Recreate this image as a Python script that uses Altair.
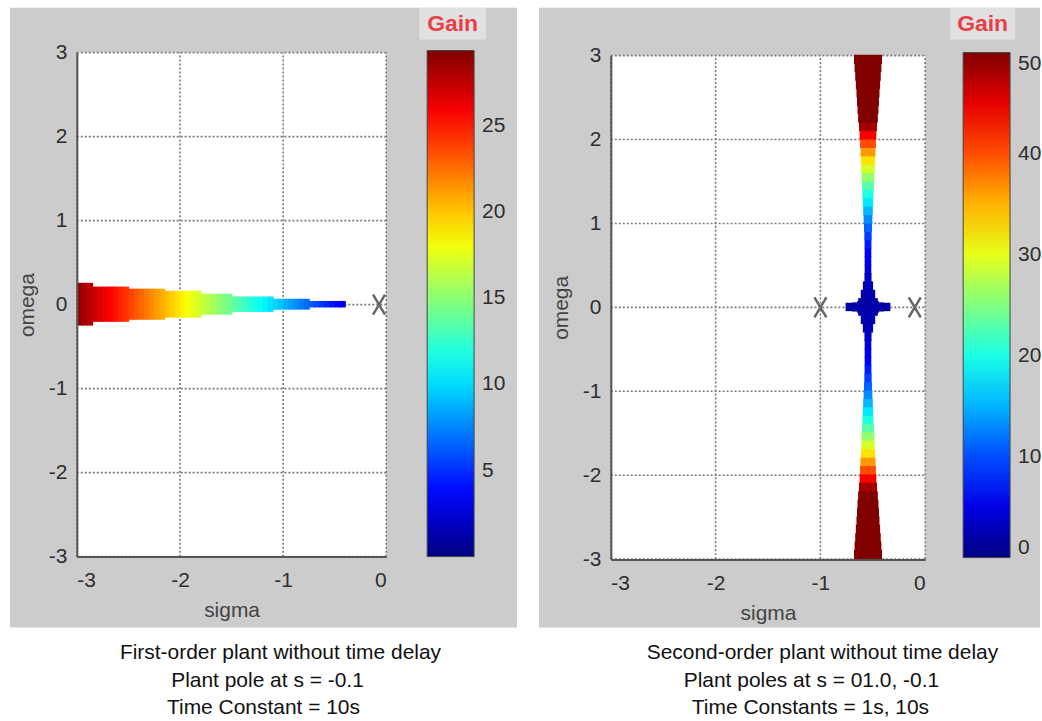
import altair as alt
import pandas as pd

FONT = "Liberation Sans"

x_ticks = [-3, -2, -1, 0]
y_ticks = [-3, -2, -1, 0, 1, 2, 3]

jet_colors = ["#000080", "#0000ff", "#0080ff", "#00ffff", "#80ff80",
              "#ffff00", "#ff8000", "#ff0000", "#800000"]
gain1_breaks = [0, 3.675, 7.35, 11.025, 14.7, 18.375, 22.05, 25.725, 29.4]
gain2_breaks = [0, 6.25, 12.5, 18.75, 25, 31.25, 37.5, 43.75, 50]
cbar1_ticks = [5, 10, 15, 20, 25]
cbar2_ticks = [0, 10, 20, 30, 40, 50]

# ---- panel 1: first-order plant, locus along the real axis ----
l1_edges = [-3.00, -2.95, -2.90, -2.85, -2.80, -2.75, -2.70, -2.65, -2.60, -2.55,
            -2.50, -2.45, -2.40, -2.35, -2.30, -2.25, -2.20, -2.15, -2.10, -2.05,
            -2.00, -1.95, -1.90, -1.85, -1.80, -1.75, -1.70, -1.65, -1.60, -1.55,
            -1.50, -1.45, -1.40, -1.35, -1.30, -1.25, -1.20, -1.15, -1.10, -1.05,
            -1.00, -0.95, -0.90, -0.85, -0.80, -0.75, -0.70, -0.65, -0.60, -0.55,
            -0.50, -0.45, -0.40]
l1_gain = [28.75, 28.25, 27.75, 27.25, 26.75, 26.25, 25.75, 25.25, 24.75, 24.25,
           23.75, 23.25, 22.75, 22.25, 21.75, 21.25, 20.75, 20.25, 19.75, 19.25,
           18.75, 18.25, 17.75, 17.25, 16.75, 16.25, 15.75, 15.25, 14.75, 14.25,
           13.75, 13.25, 12.75, 12.25, 11.75, 11.25, 10.75, 10.25, 9.75, 9.25,
           8.75, 8.25, 7.75, 7.25, 6.75, 6.25, 5.75, 5.25, 4.75, 4.25,
           3.75, 3.25]
l1_step_edges = [-3.00, -2.85, -2.50, -2.15, -1.80, -1.50, -1.10, -0.75, -0.40]
l1_step_half = [0.25, 0.205, 0.18, 0.155, 0.12, 0.087, 0.06, 0.034]
poles1 = [-0.07]

# ---- panel 2: second-order plant, vertical branch at sigma = -0.55 ----
l2_center = -0.55
l2_w_edges = [0.0, 0.1, 0.2, 0.3, 0.4, 0.5, 0.6, 0.7, 0.8, 0.9, 1.0,
              1.1, 1.2, 1.3, 1.4, 1.5, 1.6, 1.7, 1.8, 1.9, 2.0,
              2.1, 2.2, 2.3, 2.4, 2.5, 2.6, 2.7, 2.8, 2.9, 3.0]
l2_gain = [2.05, 2.25, 2.65, 3.25, 4.05, 5.05, 6.25, 7.65, 9.25, 11.05,
           13.05, 15.25, 17.65, 20.25, 23.05, 26.05, 29.25, 32.65, 36.25, 40.05,
           44.05, 48.25, 52.65, 57.25, 62.05, 67.05, 72.25, 77.65, 83.25, 89.05]
l2_half = [0.09, 0.065, 0.045, 0.03, 0.028, 0.028, 0.028, 0.029, 0.031, 0.034,
           0.038, 0.042, 0.045, 0.049, 0.053, 0.057, 0.061, 0.064, 0.068, 0.072,
           0.076, 0.082, 0.09, 0.096, 0.101, 0.106, 0.112, 0.118, 0.124, 0.13]
star_edges = [-0.76, -0.70, -0.65, -0.61, -0.58, -0.52, -0.49, -0.45, -0.40, -0.34]
star_half = [0.045, 0.05, 0.065, 0.085, 0.11, 0.085, 0.065, 0.05, 0.045]
star_gain = [1.70, 1.87, 1.96, 2.00, 2.025, 2.00, 1.96, 1.87, 1.70]
poles2 = [-1.0, -0.1]

captions1 = ["First-order plant without time delay",
             "Plant pole at s = -0.1",
             "Time Constant = 10s"]
captions2 = ["Second-order plant without time delay",
             "Plant poles at s = 01.0, -0.1",
             "Time Constants = 1s, 10s"]


def half_at(s):
    for a, b, h in zip(l1_step_edges[:-1], l1_step_edges[1:], l1_step_half):
        if a <= s < b:
            return h
    return l1_step_half[-1]


rows1 = []
for a, b, g in zip(l1_edges[:-1], l1_edges[1:], l1_gain):
    h = half_at((a + b) / 2)
    rows1.append(dict(s0=a, s1=b, w0=-h, w1=h, gain=g))
df1 = pd.DataFrame(rows1)

rows2 = []
for a, b, g, h in zip(l2_w_edges[:-1], l2_w_edges[1:], l2_gain, l2_half):
    rows2.append(dict(s0=l2_center - h, s1=l2_center + h, w0=a, w1=b, gain=g))
    rows2.append(dict(s0=l2_center - h, s1=l2_center + h, w0=-b, w1=-a, gain=g))
for a, b, g, h in zip(star_edges[:-1], star_edges[1:], star_gain, star_half):
    rows2.append(dict(s0=a, s1=b, w0=-h, w1=h, gain=g))
df2 = pd.DataFrame(rows2)

one = pd.DataFrame({"k": [0]})


def panel(df, poles, w, h_view, y_range, breaks, cb_ticks, cb_x, cb_y, cb_len,
          bg_x, box_x, caps, cap_x):
    xs = alt.Scale(domain=[-3, 0], nice=False, zero=False)
    ys = alt.Scale(domain=[-3, 3], range=y_range, nice=False, zero=False)
    common = dict(grid=False, ticks=False, domainColor="#555555", domainWidth=2,
                  labelExpr="'' + datum.value", labelFont=FONT, labelFontSize=21,
                  labelColor="#2e2e2e", titleFont=FONT, titleFontSize=21,
                  titleColor="#444444", titleFontWeight="normal", zindex=1)
    xax = alt.Axis(values=x_ticks, title="sigma", labelPadding=13, titlePadding=9, **common)
    yax = alt.Axis(values=y_ticks, title="omega", labelPadding=10, titlePadding=11, **common)

    def X(f):
        return alt.X(f, type="quantitative", scale=xs, axis=xax)

    def Y(f):
        return alt.Y(f, type="quantitative", scale=ys, axis=yax)

    cs = alt.Scale(type="linear", domain=breaks, range=jet_colors, interpolate="rgb", clamp=True)

    bg = alt.Chart(one).mark_rect(color="#cccccc").encode(
        x=alt.value(bg_x[0]), x2=alt.value(bg_x[1]), y=alt.value(-45), y2=alt.value(576))
    white = alt.Chart(one).mark_rect(color="white").encode(
        x=alt.value(0), x2=alt.value(w), y=alt.value(y_range[1]), y2=alt.value(y_range[0]))

    gx = pd.DataFrame({"s0": x_ticks, "w0": [-3] * len(x_ticks), "w1": [3] * len(x_ticks)})
    gy = pd.DataFrame({"w0": y_ticks, "s0": [-3] * len(y_ticks), "s1": [0] * len(y_ticks)})
    grid_style = dict(strokeDash=[2, 2], color="#7a7a7a", strokeWidth=1.6)
    gridx = alt.Chart(gx).mark_rule(**grid_style).encode(x=X("s0"), y=Y("w0"), y2="w1")
    gridy = alt.Chart(gy).mark_rule(**grid_style).encode(y=Y("w0"), x=X("s0"), x2="s1")

    locus = alt.Chart(df).mark_rect(x2Offset=0.8, y2Offset=-0.8).encode(
        x=X("s0"), x2="s1", y=Y("w0"), y2="w1",
        color=alt.Color("gain:Q", scale=cs, legend=alt.Legend(
            type="gradient", orient="none", legendX=cb_x, legendY=cb_y,
            direction="vertical", gradientLength=cb_len, gradientThickness=47,
            title=None, values=cb_ticks, labelFont=FONT, labelFontSize=21,
            labelColor="#2e2e2e", labelOffset=8, gradientStrokeColor="#444444",
            gradientStrokeWidth=1, padding=0, labelOverlap=False)))

    pdf = pd.DataFrame({"s0": poles, "w0": [0] * len(poles)})
    pole_marks = alt.Chart(pdf).mark_point(
        shape="M-0.6,-1L0.6,1M0.6,-1L-0.6,1", size=400, filled=False,
        strokeWidth=2.5, color="#666666", opacity=1).encode(x=X("s0"), y=Y("w0"))

    box = alt.Chart(one).mark_rect(color="#e0e0e0").encode(
        x=alt.value(box_x[0]), x2=alt.value(box_x[1]), y=alt.value(-45), y2=alt.value(-13))
    box_text = alt.Chart(one).mark_text(
        text="Gain", font=FONT, fontSize=23, fontWeight="bold", color="#e63f48",
        align="center", baseline="middle").encode(
        x=alt.value((box_x[0] + box_x[1]) / 2), y=alt.value(-29))

    cap_layers = []
    for t, cx, cy in zip(caps, cap_x, [608, 636, 663]):
        cap_layers.append(alt.Chart(one).mark_text(
            text=t, font=FONT, fontSize=21, color="#111111", align="center",
            baseline="alphabetic").encode(x=alt.value(cx), y=alt.value(cy)))

    return alt.layer(bg, white, gridx, gridy, locus, pole_marks, box, box_text,
                     *cap_layers).properties(width=w, height=h_view)


p1 = panel(df1, poles1, 310, 505, [505, 0], gain1_breaks, cbar1_ticks,
           351, -2, 507, (-67, 441), (343, 410), captions1, [204, 191, 187])
p2 = panel(df2, poles2, 315, 508, [507.5, 3], gain2_breaks, cbar2_ticks,
           353, 0, 506, (-72, 430), (340, 405), captions2, [212, 201, 200])

chart = alt.hconcat(p1, p2, spacing=225, bounds="flush").resolve_scale(
    x="independent", y="independent", color="independent"
).configure_view(strokeWidth=0).properties(
    padding={"left": 10, "top": 7, "right": 0, "bottom": 0}, background="white")

chart.save("out.html", embed_options={"renderer": "svg", "actions": False})
